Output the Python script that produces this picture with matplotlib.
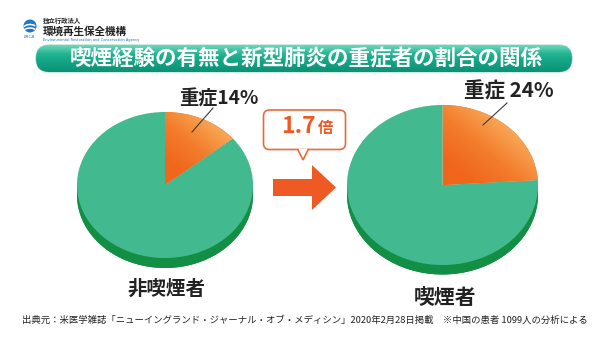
import numpy as np
import matplotlib
matplotlib.use('Agg')
import matplotlib.pyplot as plt
from matplotlib.patches import FancyBboxPatch, Polygon, FancyArrow, Circle, Arc
from matplotlib.colors import LinearSegmentedColormap

plt.rcParams['font.family'] = ['Noto Sans CJK JP', 'DejaVu Sans']

# ---- data ----
title = "喫煙経験の有無と新型肺炎の重症者の割合の関係"
groups = ["非喫煙者", "喫煙者"]
severe_pct = [14, 24]
severe_label = ["重症14%", "重症 24%"]
ratio_value = "1.7"
ratio_unit = "倍"
source = ("出典元：米医学雑誌「ニューイングランド・ジャーナル・オブ・メディシン」"
          "2020年2月28日掲載　※中国の患者 1099人の分析による")
org_small = "独立行政法人"
org_name = "環境再生保全機構"
org_en = "Environmental Restoration and Conservation Agency"

GREEN = '#42b98f'
ORANGE_DARK = '#f0661c'
ORANGE_LIGHT = '#f8a655'
ARROW = '#ef5a24'
TXT = '#222222'

W, H = 608, 342
fig = plt.figure(figsize=(W / 100, H / 100), dpi=100)
fig.patch.set_facecolor('white')
bg = fig.add_axes([0, 0, 1, 1])
bg.axis('off')

# ---- logo ----
bg.add_patch(Circle((30, 26), 6.5, fc='#1f77c9', ec='none'))
for dy in (-2.0, 1.5):
    bg.add_patch(Arc((30, 26 + dy + 5), 14, 9, theta1=200, theta2=330,
                     color='white', lw=1.1))
bg.text(30, 37, "ERCA", fontsize=3, color='#1f77c9', ha='center', va='center',
        style='italic', family=['DejaVu Sans'])
bg.text(43, 20.5, org_small, fontsize=4.6, color=TXT, ha='left', va='center',
        fontweight='bold')
bg.text(42.5, 31.5, org_name, fontsize=7.6, color=TXT, ha='left', va='center',
        fontweight='bold')
bg.text(43, 39.5, org_en, fontsize=2.6, color='#1f77c9', ha='left', va='center',
        family=['DejaVu Sans'])

# ---- title banner ----
banner = FancyBboxPatch((36, 45), 536, 27, boxstyle="round,pad=0,rounding_size=13.5",
                        fc='#17ad8c', ec='#9fdcc8', lw=0.8)
bg.add_patch(banner)
bcmap = LinearSegmentedColormap.from_list('b', ['#6fd6ba', '#22b391', '#12a283', '#0b9273'])
grad = np.linspace(0, 1, 64).reshape(-1, 1)
im = bg.imshow(grad, extent=(36, 572, 72, 45), cmap=bcmap, aspect='auto',
               interpolation='bilinear', zorder=2)
im.set_clip_path(banner)
bg.text(306, 58.5, title, fontsize=15.5, color='white', fontweight='bold',
        ha='center', va='center', zorder=3)

# ---- callout & arrow ----
box = FancyBboxPatch((263.5, 110), 82, 39.5, boxstyle="round,pad=0,rounding_size=6",
                     fc='white', ec='#ea6a3c', lw=1.2, zorder=2)
bg.add_patch(box)
bg.add_patch(Polygon([(297.5, 148.6), (303, 160), (308.5, 148.6)], closed=True,
                     fc='white', ec='none', zorder=3))
bg.plot([297.8, 303, 308.2], [149.5, 160, 149.5], color='#ea6a3c', lw=1.2,
        zorder=4, solid_joinstyle='miter')
bg.text(316, 133, ratio_value, fontsize=16.5, color=ARROW, fontweight='bold',
        ha='right', va='baseline', zorder=5)
bg.text(318, 133, ratio_unit, fontsize=11, color=ARROW, fontweight='bold',
        ha='left', va='baseline', zorder=5)
bg.add_patch(FancyArrow(273, 187.5, 63, 0, width=17, head_width=45, head_length=24,
                        length_includes_head=True, fc=ARROW, ec='none'))

# ---- footnote ----
bg.text(22, 320, source, fontsize=6.75, color=TXT, ha='left', va='center')

bg.set_xlim(0, W)
bg.set_ylim(H, 0)

# ---- pies ----
pies = [dict(cx=165, cy=185, rx=88, ry=73, depth=10),
        dict(cx=442.5, cy=185, rx=95.5, ry=80, depth=9.5)]
ocmap = LinearSegmentedColormap.from_list('o', [ORANGE_DARK, '#f37d2c', ORANGE_LIGHT])
scmap = LinearSegmentedColormap.from_list('s', ['#1c9a4c', '#0f8a42', '#11853f', '#2c6f3c', '#1f8a45'])

for g, pct in zip(pies, severe_pct):
    cx, cy, rx, ry, dp = g['cx'], g['cy'], g['rx'], g['ry'], g['depth']
    d = dp / ry
    ax = fig.add_axes([(cx - rx) / W, 1 - (cy + ry + dp) / H, 2 * rx / W, (2 * ry + dp) / H])
    ax.axis('off')
    # side of the disc
    t = np.linspace(np.pi, 2 * np.pi, 120)
    side_pts = np.column_stack([np.cos(t), np.sin(t) - d])
    side_pts = np.vstack([[[-1, 0]], side_pts, [[1, 0]]])
    side = Polygon(side_pts, closed=True, fc='#138f45', ec='none')
    ax.add_patch(side)
    sgrad = np.linspace(0, 1, 128).reshape(1, -1)
    sim = ax.imshow(sgrad, extent=(-1, 1, -1 - d, 0), cmap=scmap, aspect='auto',
                    interpolation='bilinear')
    sim.set_clip_path(side)
    # pie face
    wedges, _ = ax.pie([pct, 100 - pct], colors=[ORANGE_DARK, GREEN], startangle=90,
                       counterclock=False, radius=1, center=(0, 0),
                       wedgeprops=dict(linewidth=0))
    xx, yy = np.meshgrid(np.linspace(0, 1, 100), np.linspace(1, 0, 100))
    og = np.clip((xx + yy - 0.35) / 1.05, 0, 1)
    oim = ax.imshow(og, extent=(0, 1, 0, 1), cmap=ocmap, aspect='auto',
                    interpolation='bilinear', zorder=3)
    oim.set_clip_path(wedges[0])
    ax.set_aspect('auto')
    ax.set_xlim(-1, 1)
    ax.set_ylim(-1 - d, 1)

# ---- overlay labels ----
fg = fig.add_axes([0, 0, 1, 1])
fg.patch.set_alpha(0)
fg.axis('off')
fg.set_xlim(0, W)
fg.set_ylim(H, 0)
fg.plot([213, 192], [108, 132], color='#3a3a3a', lw=0.8)
fg.plot([507, 483], [103, 125], color='#3a3a3a', lw=0.8)
fg.text(218.5, 98.5, severe_label[0], fontsize=13.8, color=TXT, fontweight='bold',
        ha='center', va='center')
fg.text(508.5, 91.5, severe_label[1], fontsize=14.8, color=TXT, fontweight='bold',
        ha='center', va='center')
fg.text(166, 289, groups[0], fontsize=14, color=TXT, fontweight='bold',
        ha='center', va='center')
fg.text(445, 297.5, groups[1], fontsize=15, color=TXT, fontweight='bold',
        ha='center', va='center')

fig.savefig('out.png', dpi=100, facecolor='white')
